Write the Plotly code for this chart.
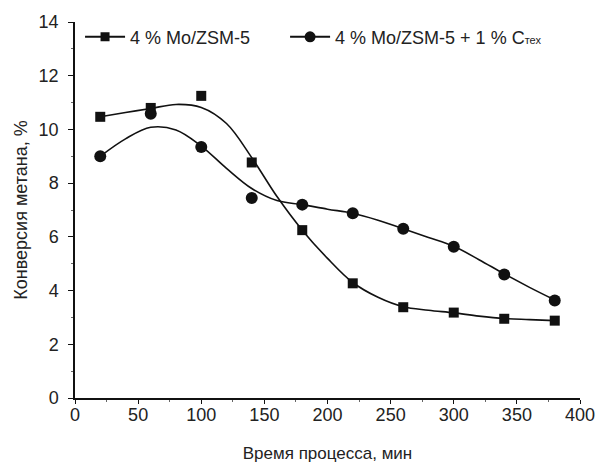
import plotly.graph_objects as go

# measured points
time_min = [20, 60, 100, 140, 180, 220, 260, 300, 340, 380]
conv_mo = [10.47, 10.8, 11.25, 8.77, 6.25, 4.27, 3.38, 3.18, 2.95, 2.88]
conv_mo_c = [9.0, 10.58, 9.35, 7.45, 7.2, 6.88, 6.3, 5.63, 4.6, 3.63]

# smoothed (fitted) curves
fit_time = [20, 40, 60, 80, 100, 120, 140, 160, 180, 200, 220, 240, 260, 280, 300, 320, 340, 360, 380]
fit_mo = [10.47, 10.63, 10.78, 10.93, 10.82, 10.22, 8.95, 7.5, 6.25, 5.2, 4.3, 3.75, 3.4, 3.27, 3.17, 3.05, 2.96, 2.92, 2.88]
fit_mo_c = [9.0, 9.65, 10.08, 9.98, 9.38, 8.55, 7.8, 7.35, 7.2, 7.03, 6.88, 6.62, 6.3, 5.98, 5.65, 5.15, 4.62, 4.12, 3.65]

series_names = ["4 % Mo/ZSM-5" + "\u00a0" * 6,
                "4 % Mo/ZSM-5 + 1 % C<span style=\"font-size:11px\">тех</span>"]
x_ticks = [0, 50, 100, 150, 200, 250, 300, 350, 400]
y_ticks = [0, 2, 4, 6, 8, 10, 12, 14]

ink = "#111111"
fig = go.Figure()

for fit_y, pts_y, sym, msize, name in [
    (fit_mo, conv_mo, "square", 10, series_names[0]),
    (fit_mo_c, conv_mo_c, "circle", 12, series_names[1]),
]:
    fig.add_trace(go.Scatter(x=fit_time, y=fit_y, mode="lines",
                             line=dict(color=ink, width=1.6, shape="spline", smoothing=1.0),
                             showlegend=False, hoverinfo="skip"))
    fig.add_trace(go.Scatter(x=time_min, y=pts_y, mode="markers",
                             marker=dict(symbol=sym, size=msize, color=ink),
                             showlegend=False))
    fig.add_trace(go.Scatter(x=[None], y=[None], mode="lines+markers", name=name,
                             line=dict(color=ink, width=2),
                             marker=dict(symbol=sym, size=msize - 1, color=ink)))

axis_font = dict(family="Liberation Sans, Arial, sans-serif", size=18, color="#222222")
fig.update_layout(
    width=599, height=463,
    margin=dict(l=75, r=19, t=22, b=65),
    paper_bgcolor="white", plot_bgcolor="white",
    font=dict(family="Liberation Sans, Arial, sans-serif", color="#222222"),
    legend=dict(orientation="h", x=0.01, y=1.009, xanchor="left", yanchor="top",
                font=dict(size=18, color="#222222"), bgcolor="rgba(0,0,0,0)",
                itemwidth=40, tracegroupgap=0),
    xaxis=dict(range=[0, 400], tickvals=x_ticks, ticks="outside", ticklen=4, tickwidth=1.2,
               tickcolor=ink, showline=True, linecolor=ink, linewidth=1.5,
               showgrid=False, zeroline=False, tickfont=axis_font, ticklabelstandoff=-4,
               ticklabeloverflow="allow", automargin=False,
               minor=dict(ticks="outside", ticklen=2, dtick=25, tick0=0, tickcolor="#666666", showgrid=False),
               title=dict(text="Время процесса, мин", font=dict(size=17, color="#222222"), standoff=25)),
    yaxis=dict(range=[0, 14], tickvals=y_ticks, ticks="outside", ticklen=5, tickwidth=1.2,
               tickcolor=ink, showline=True, linecolor=ink, linewidth=1.5,
               showgrid=False, zeroline=False, tickfont=axis_font, ticklabelstandoff=6,
               automargin=False,
               minor=dict(ticks="outside", ticklen=2, dtick=1, tick0=0, tickcolor="#666666", showgrid=False),
               title=dict(text="Конверсия метана, %", font=dict(size=18, color="#222222"), standoff=6)),
)

fig.write_html("out.html", config={"displayModeBar": False},
               post_script="document.body.style.margin='0';")
